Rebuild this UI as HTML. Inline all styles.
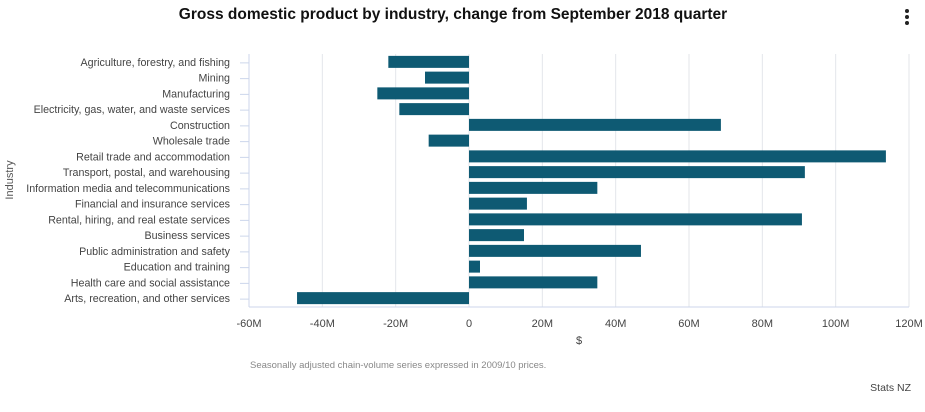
<!DOCTYPE html>
<html><head><meta charset="utf-8"><style>
body{margin:0;background:#fff;font-family:"Liberation Sans",sans-serif;}
svg text{font-family:"Liberation Sans",sans-serif;}
</style></head><body>
<svg width="925" height="407">
<text x="453" y="19" text-anchor="middle" font-size="15.5" font-weight="bold" fill="#111">Gross domestic product by industry, change from September 2018 quarter</text>
<g><circle cx="907" cy="11" r="2" fill="#222"/><circle cx="907" cy="17" r="2" fill="#222"/><circle cx="907" cy="23" r="2" fill="#222"/></g>
<g id="grid"></g><g id="bars"></g><g id="labels"></g><g id="xt"></g>
<text x="13" y="180" transform="rotate(-90 13 180)" text-anchor="middle" font-size="11" fill="#555">Industry</text>
<text x="579" y="344" text-anchor="middle" font-size="11" fill="#444">$</text>
<text x="250" y="368" font-size="9.5" fill="#888">Seasonally adjusted chain-volume series expressed in 2009/10 prices.</text>
<text x="911" y="391" text-anchor="end" font-size="10.5" fill="#444">Stats NZ</text>
</svg>
<script>
const categories=["Agriculture, forestry, and fishing","Mining","Manufacturing","Electricity, gas, water, and waste services","Construction","Wholesale trade","Retail trade and accommodation","Transport, postal, and warehousing","Information media and telecommunications","Financial and insurance services","Rental, hiring, and real estate services","Business services","Public administration and safety","Education and training","Health care and social assistance","Arts, recreation, and other services"];
const values=[-22,-12,-25,-19,68.7,-11,113.7,91.6,35,15.8,90.8,15,46.9,3,35,-46.9];
const ticks=[-60,-40,-20,0,20,40,60,80,100,120];
const tickLabels=["-60M","-40M","-20M","0","20M","40M","60M","80M","100M","120M"];
{
const NS="http://www.w3.org/2000/svg";
const x0=249,x1=909,yTop=54,yBot=307,vmin=-60,vmax=120;
const X=v=>x0+(v-vmin)/(vmax-vmin)*(x1-x0);
const band=(yBot-1-yTop)/categories.length;
const Y=i=>yTop+band*(i+0.5);
function mk(t,a,p){const e=document.createElementNS(NS,t);for(const k in a)e.setAttribute(k,a[k]);document.getElementById(p).appendChild(e);return e;}
ticks.forEach((t,i)=>{
  if(i>0){const g=mk("line",{x1:X(t),x2:X(t),y1:yTop,y2:yBot,stroke:"#e3e6ea","stroke-width":1},"grid");
  
  }
  const tx=mk("text",{x:X(t),y:yBot+20,"text-anchor":"middle","font-size":11,fill:"#444"},"xt");
  tx.textContent=tickLabels[i];
  
  
});
const ax=mk("line",{x1:x0,x2:x0,y1:yTop,y2:yBot,stroke:"#ccd6eb"},"grid");


const bx=mk("line",{x1:x0,x2:x1,y1:yBot,y2:yBot,stroke:"#ccd6eb"},"grid");


categories.forEach((c,i)=>{
  const v=values[i],y=Y(i);
  const r=mk("rect",{x:Math.min(X(0),X(v)),y:y-6,width:Math.abs(X(v)-X(0)),height:12,fill:"#0e5a73"},"bars");
  
  
  const tk=mk("line",{x1:x0-9,x2:x0,y1:y+1,y2:y+1,stroke:"#ccd6eb"},"grid");
  
  
  const l=mk("text",{x:230,y:y+4,"text-anchor":"end","font-size":10.7,fill:"#444"},"labels");
  l.textContent=c;
  
  
});
}
</script>
</body></html>
